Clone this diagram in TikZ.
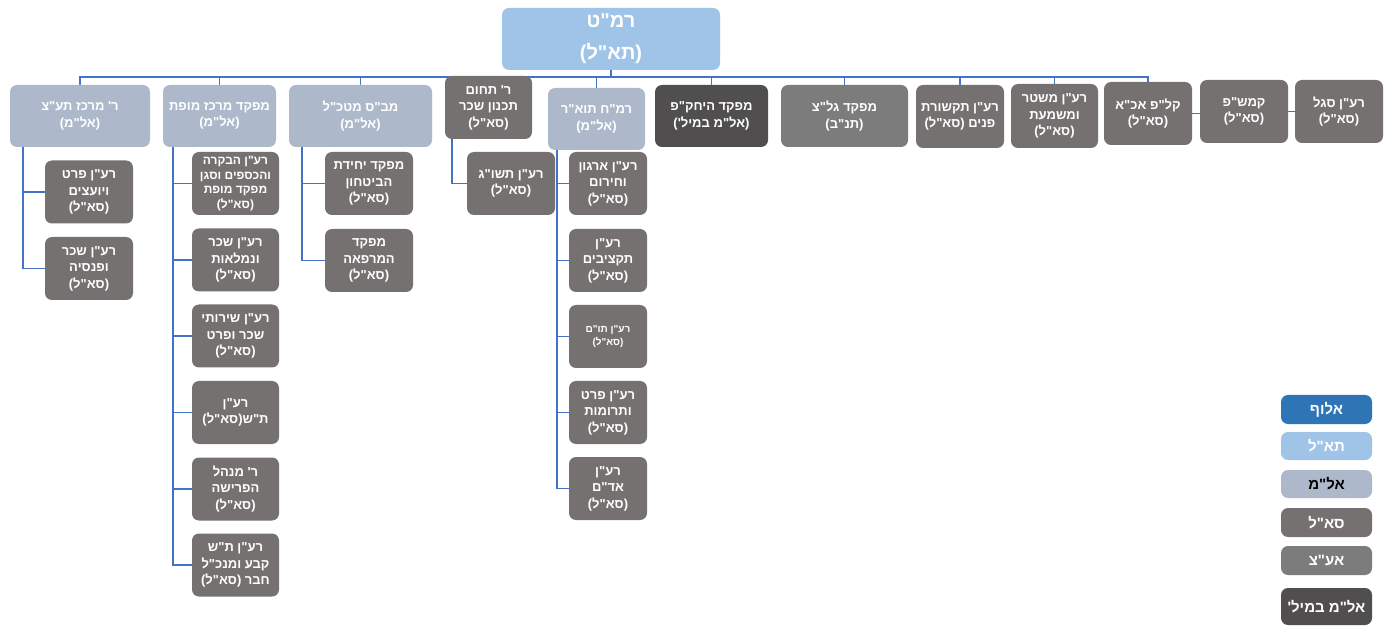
\documentclass[tikz,border=0pt]{standalone}
\usepackage{fontspec}
\TeXXeTstate=1
\newfontfamily\hebfont[Script=Hebrew]{Liberation Sans}
\newcommand\hb[1]{\beginR #1\endR}
\definecolor{rootblue}{HTML}{9FC4E8}
\definecolor{alufblue}{HTML}{2E75B6}
\definecolor{almgray}{HTML}{ADB9CA}
\definecolor{salgray}{HTML}{767171}
\definecolor{galatzgray}{HTML}{7C7C7C}
\definecolor{milgray}{HTML}{504E4E}
\definecolor{linkblue}{HTML}{4472C4}
\pgfdeclarelayer{bg}
\pgfdeclarelayer{lines}
\pgfsetlayers{bg,lines,main}
\tikzset{
  x=1pt,y=-1pt,
  box/.style={rounded corners=7pt, align=center, inner sep=1pt, text=white,
    font=\hebfont\bfseries\fontsize{13}{16.5}\selectfont},
  rootbox/.style={box, fill=rootblue, font=\hebfont\bfseries\fontsize{20}{32}\selectfont},
  almbox/.style={box, fill=almgray},
  salbox/.style={box, fill=salgray},
  milbox/.style={box, fill=milgray},
  galbox/.style={box, fill=galatzgray},
  kid/.style={salbox, minimum width=88, minimum height=63},
  legbox/.style={box, minimum width=91, font=\hebfont\bfseries\fontsize{15}{18}\selectfont},
  link/.style={draw=linkblue, line width=1.6pt},
}
\begin{document}
\begin{tikzpicture}
\begin{pgfonlayer}{bg}
\fill[white] (0,0) rectangle (1393,628);
\end{pgfonlayer}
\useasboundingbox (0,0) rectangle (1393,628);

% root
\node[rootbox, minimum width=218, minimum height=62] (root) at (611,39) {\hb{רמ"ט}\\\hb{(תא"ל)}};

% top level
\node[almbox, minimum width=140, minimum height=62] (b1) at (80,116) {\hb{ר' מרכז תע"צ}\\\hb{(אל"מ)}};
\node[almbox, minimum width=113, minimum height=62] (b2) at (219.5,116) {\hb{מפקד מרכז מופת}\\\hb{(אל"מ)}};
\node[almbox, minimum width=143, minimum height=62] (b3) at (360.5,116) {\hb{מב"ס מטכ"ל}\\\hb{(אל"מ)}};
\node[salbox, minimum width=87, minimum height=63] (b4) at (488.5,107.5) {\hb{ר' תחום}\\\hb{תכנון שכר}\\\hb{(סא"ל)}};
\node[almbox, minimum width=97, minimum height=62] (b5) at (596.5,119) {\hb{רמ"ח תוא"ר}\\\hb{(אל"מ)}};
\node[milbox, minimum width=113, minimum height=62] (b6) at (711.5,116) {\hb{מפקד היחק"פ}\\\hb{(אל"מ במיל')}};
\node[galbox, minimum width=127, minimum height=62] (b7) at (844.5,116) {\hb{מפקד גל"צ}\\\hb{(תנ"ב)}};
\node[salbox, minimum width=88, minimum height=63] (b8) at (960,116.5) {\hb{רע"ן תקשורת}\\\hb{פנים (סא"ל)}};
\node[salbox, minimum width=87, minimum height=64] (b9) at (1054.5,116) {\hb{רע"ן משטר}\\\hb{ומשמעת}\\\hb{(סא"ל)}};
\node[salbox, minimum width=88, minimum height=63] (b10) at (1148,113.5) {\hb{קל"פ אכ"א}\\\hb{(סא"ל)}};
\node[salbox, minimum width=88, minimum height=63] (b11) at (1244,111.5) {\hb{קמש"פ}\\\hb{(סא"ל)}};
\node[salbox, minimum width=88, minimum height=63] (b12) at (1339,111.5) {\hb{רע"ן סגל}\\\hb{(סא"ל)}};

% children of b1
\node[kid] (c11) at (89,192) {\hb{רע"ן פרט}\\\hb{ויועצים}\\\hb{(סא"ל)}};
\node[kid] (c12) at (89,268.5) {\hb{רע"ן שכר}\\\hb{ופנסיה}\\\hb{(סא"ל)}};

% children of b2
\node[kid, minimum width=87, font=\hebfont\bfseries\fontsize{12}{14.5}\selectfont] (c21) at (235.5,183.5) {\hb{רע"ן הבקרה}\\\hb{והכספים וסגן}\\\hb{מפקד מופת}\\\hb{(סא"ל)}};
\node[kid, minimum width=87] (c22) at (235.5,260) {\hb{רע"ן שכר}\\\hb{ונמלאות}\\\hb{(סא"ל)}};
\node[kid, minimum width=87] (c23) at (235.5,336) {\hb{רע"ן שירותי}\\\hb{שכר ופרט}\\\hb{(סא"ל)}};
\node[kid, minimum width=87] (c24) at (235.5,412.5) {\hb{רע"ן}\\\hb{ת"ש(סא"ל)}};
\node[kid, minimum width=87] (c25) at (235.5,489) {\hb{ר' מנהל}\\\hb{הפרישה}\\\hb{(סא"ל)}};
\node[kid, minimum width=87] (c26) at (235.5,565) {\hb{רע"ן ת"ש}\\\hb{קבע ומנכ"ל}\\\hb{חבר (סא"ל)}};

% children of b3
\node[kid] (c31) at (369,183.5) {\hb{מפקד יחידת}\\\hb{הביטחון}\\\hb{(סא"ל)}};
\node[kid] (c32) at (369,260.5) {\hb{מפקד}\\\hb{המרפאה}\\\hb{(סא"ל)}};

% child of b4
\node[kid] (c41) at (511,183.5) {\hb{רע"ן תשו"ג}\\\hb{(סא"ל)}};

% children of b5
\node[kid, minimum width=78] (c51) at (608,183.5) {\hb{רע"ן ארגון}\\\hb{וחירום}\\\hb{(סא"ל)}};
\node[kid, minimum width=78] (c52) at (608,260.5) {\hb{רע"ן}\\\hb{תקציבים}\\\hb{(סא"ל)}};
\node[kid, minimum width=78, font=\hebfont\bfseries\fontsize{10}{13}\selectfont] (c53) at (608,336.5) {\hb{רע"ן תו"ם}\\\hb{(סא"ל)}};
\node[kid, minimum width=78] (c54) at (608,412.5) {\hb{רע"ן פרט}\\\hb{ותרומות}\\\hb{(סא"ל)}};
\node[kid, minimum width=78] (c55) at (608,488.5) {\hb{רע"ן}\\\hb{אד"ם}\\\hb{(סא"ל)}};

% legend
\node[legbox, fill=alufblue, minimum height=29] (l1) at (1326.5,409.5) {\hb{אלוף}};
\node[legbox, fill=rootblue, minimum height=28] (l2) at (1326.5,446) {\hb{תא"ל}};
\node[legbox, fill=almgray, text=black, minimum height=28] (l3) at (1326.5,484) {\hb{אל"מ}};
\node[legbox, fill=salgray, minimum height=29] (l4) at (1326.5,522.5) {\hb{סא"ל}};
\node[legbox, fill=galatzgray, minimum height=29] (l5) at (1326.5,560.5) {\hb{אע"צ}};
\node[legbox, fill=milgray, minimum height=37] (l6) at (1326.5,606.5) {\hb{אל"מ במיל'}};

% connectors
\begin{pgfonlayer}{lines}
\foreach \b in {b1,b2,b3,b4,b5,b6,b7,b8,b9,b10}
  \draw[link] (root.south) -- ++(0,7) -| (\b.north);
\draw[link] (b10.east) -- (b10.east -| b11.west);
\draw[link] (b11.east) -- (b11.east -| b12.west);
\foreach \c in {c11,c12}
  \draw[link] ([xshift=13pt]b1.south west) |- (\c.west);
\foreach \c in {c21,c22,c23,c24,c25,c26}
  \draw[link] ([xshift=10pt]b2.south west) |- (\c.west);
\foreach \c in {c31,c32}
  \draw[link] ([xshift=13pt]b3.south west) |- (\c.west);
\draw[link] ([xshift=7pt]b4.south west) |- (c41.west);
\foreach \c in {c51,c52,c53,c54,c55}
  \draw[link] ([xshift=9pt]b5.south west) |- (\c.west);
\end{pgfonlayer}
\end{tikzpicture}
\end{document}
